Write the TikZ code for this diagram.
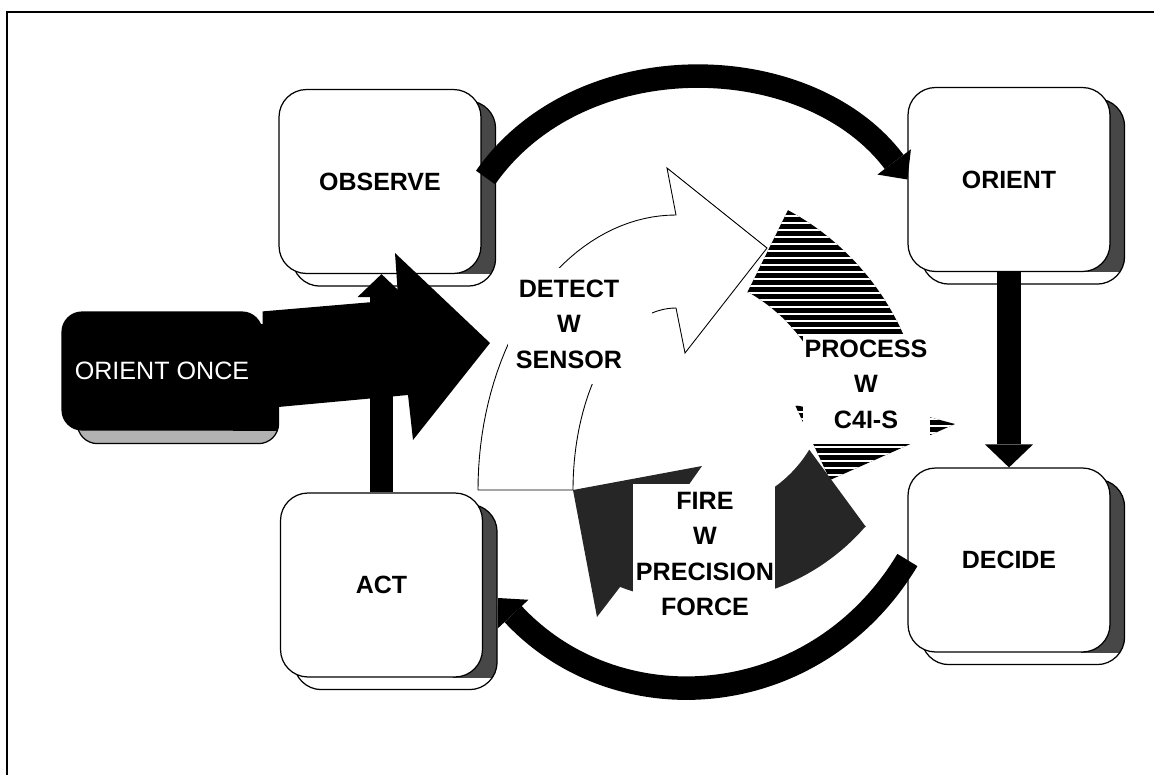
\documentclass[tikz,border=0pt]{standalone}
\usepackage{fontspec}
\setmainfont{Liberation Sans}
\usetikzlibrary{arrows.meta,calc}
\pgfdeclarelayer{shadow}
\pgfsetlayers{shadow,main}
\tikzset{
  stepbox/.style={draw=black, line width=0.7pt, fill=white, rounded corners=0.55cm,
    minimum width=4.04cm, minimum height=3.68cm, inner sep=0pt,
    font=\bfseries\fontsize{14.2}{17}\selectfont},
  sidestrip/.style={fill=black!72},
  oncebox/.style={draw=black, line width=0.7pt, fill=black, rounded corners=0.4cm,
    minimum width=4cm, minimum height=2.36cm, inner sep=0pt, text=white,
    font=\fontsize{14.3}{17}\selectfont},
  flow/.style={draw=black, line width=0.47cm, line cap=butt,
    -{Triangle[length=0.46cm, width=0.96cm, line width=0pt]}},
  arcflow/.style={flow, -{Triangle[length=0.44cm, width=0.84cm, line width=0pt]}},
  outline/.style={draw=black, line width=0.5pt, fill=white, line join=miter},
  stripe/.style={draw=white, line width=0.032cm},
  dark/.style={fill=black!85},
  cyclelbl/.style={align=center, inner sep=0pt,
    font=\bfseries\fontsize{14.3}{20.2}\selectfont},
}
\begin{document}
\begin{tikzpicture}[x=0.02cm, y=-0.02cm]
\useasboundingbox (0,0) rectangle (1154,775);

% page frame (top and left rules)
\draw[line width=1.1pt] (7,775) -- (7,12) -- (1154,12);

% the four stages and the entry box
\node[stepbox] (observe) at (380,181.5) {OBSERVE};
\node[stepbox] (orient)  at (1009,179.5) {ORIENT};
\node[stepbox] (decide)  at (1009,560) {DECIDE};
\node[stepbox] (act)     at (381.5,585) {ACT};
\node[oncebox] (once)    at (162,371) {ORIENT ONCE};

% raised-box depth behind each stage
\begin{pgfonlayer}{shadow}
  \foreach \bx in {observe,orient,decide,act}{
    \fill[white, rounded corners=0.55cm] ($(\bx.south west)+(14,12)$) rectangle ($(\bx.north east)+(14,12)$);
    \begin{scope}
      \clip[rounded corners=0.55cm] ($(\bx.south west)+(14,12)$) rectangle ($(\bx.north east)+(14,12)$);
      \path[sidestrip] ($(\bx.north east)+(-30,0)$) rectangle ($(\bx.south east)+(20,0)$);
    \end{scope}
    \draw[line width=0.7pt, rounded corners=0.55cm] ($(\bx.south west)+(14,12)$) rectangle ($(\bx.north east)+(14,12)$);
  }
  \fill[black!30, rounded corners=0.4cm] ($(once.south west)+(16,13)$) rectangle ($(once.north east)+(16,13)$);
  \begin{scope}
    \clip[rounded corners=0.4cm] ($(once.south west)+(16,13)$) rectangle ($(once.north east)+(16,13)$);
    \fill[black] ($(once.north east)+(-30,0)$) rectangle ($(once.south east)+(20,0)$);
  \end{scope}
  \draw[line width=0.7pt, rounded corners=0.4cm] ($(once.south west)+(16,13)$) rectangle ($(once.north east)+(16,13)$);
\end{pgfonlayer}

% loop connectors
\draw[flow] (act.north) -- (act.north |- observe.south);
\draw[flow] (orient.south) -- (decide.north);
\draw[arcflow] ([xshift=0.08cm,yshift=0.08cm]observe.east) to[out=55,in=127] (orient.west);
\draw[arcflow] (decide.west) to[out=239,in=-47,looseness=1.1] ([xshift=0.3cm,yshift=-0.26cm]act.east);

% block arrow leaving the entry box
\fill[black] (once.north east) -- (373,302) -- (398,296) -- (395,253) -- (490,343)
  -- (413,440) -- (408,395) -- (278,407) -- (262,407) -- cycle;

% inner cycle: detect (open)
\path[outline] (478,490) -- (573,490)
  -- plot[domain=180:90, samples=40, variable=\t] ({676+103*cos(\t)},{490-182*sin(\t)})
  -- (685,353) -- (767,248) -- (667,168) -- (676,215)
  -- plot[domain=90:180, samples=40, variable=\t] ({676+198*cos(\t)},{490-275*sin(\t)})
  -- cycle;

% process (black with white horizontal stripes)
\begin{scope}
  \clip (747,293) -- (788,210)
    -- plot[domain=61.8:5.5, samples=40, variable=\t] ({664+262*cos(\t)},{441-262*sin(\t)})
    -- (955,424) -- (830,480) -- (795,405) -- (833,413.5)
    -- plot[domain=9.2:60.5, samples=40, variable=\t] ({664+171*cos(\t)},{441-171*sin(\t)})
    -- cycle;
  \fill[black] (730,200) rectangle (970,495);
  \foreach \yy in {216,223,...,490}{
    \draw[stripe] (730,\yy) -- (970,\yy);
  }
\end{scope}

% fire (dark)
\path[dark] (573,490) -- (702,466) -- (671,510)
  -- plot[domain=-103:-31.4, samples=40, variable=\t] ({700+128*cos(\t)},{383-128*sin(\t)})
  -- (866,527)
  -- plot[domain=-40.8:-111.4, samples=40, variable=\t] ({700+219*cos(\t)},{383-219*sin(\t)})
  -- (597,617) -- cycle;

% label panels over the cycle
\fill[white] (508,268) rectangle (652,384);
\fill[white] (803,334) rectangle (930,444);
\fill[white] (633,484) rectangle (775,625);
\node[cyclelbl] (detect)  at (569,324) {DETECT\\W\\SENSOR};
\node[cyclelbl] (process) at (866,384) {PROCESS\\W\\C4I-S};
\node[cyclelbl] (fire)    at (705,554) {FIRE\\W\\PRECISION\\FORCE};
\end{tikzpicture}
\end{document}
